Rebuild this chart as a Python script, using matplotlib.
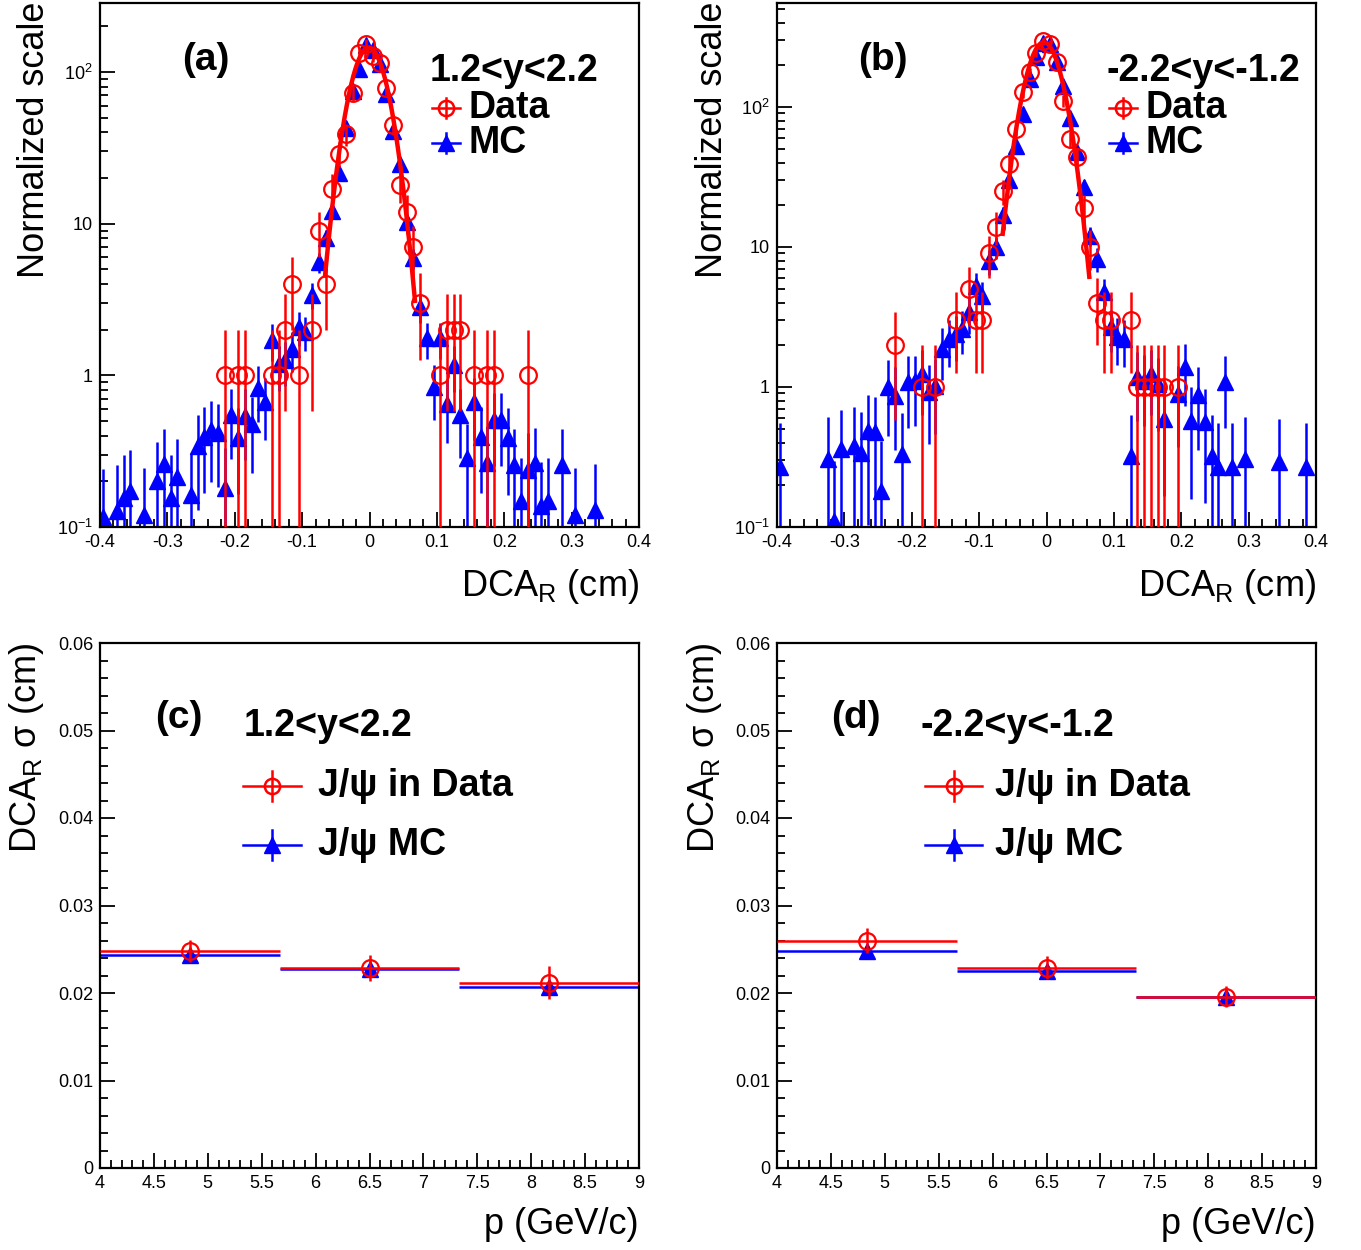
import numpy as np
import matplotlib
matplotlib.use('Agg')
import matplotlib.pyplot as plt
from matplotlib.ticker import MultipleLocator, FixedLocator, LogLocator, NullFormatter, FuncFormatter

plt.rcParams['font.family'] = ['Liberation Sans', 'DejaVu Sans']
plt.rcParams['mathtext.fontset'] = 'custom'
plt.rcParams['mathtext.rm'] = 'Liberation Sans'
plt.rcParams['mathtext.it'] = 'Liberation Sans:italic'
plt.rcParams['mathtext.bf'] = 'Liberation Sans:bold'
plt.rcParams['axes.unicode_minus'] = False

# ---- (a) 1.2<y<2.2 : DCA_R distributions ----
a_mc_x = [-0.395, -0.375, -0.365, -0.355, -0.335, -0.315, -0.305, -0.295, -0.285, -0.265,
          -0.255, -0.245, -0.235, -0.225, -0.215, -0.205, -0.195, -0.185, -0.175, -0.165,
          -0.155, -0.145, -0.135, -0.125, -0.115, -0.105, -0.095, -0.085, -0.075, -0.065,
          -0.055, -0.045, -0.035, -0.025, -0.015, -0.005, 0.005, 0.015, 0.025, 0.035,
          0.045, 0.055, 0.065, 0.075, 0.085, 0.095, 0.105, 0.115, 0.125, 0.135,
          0.145, 0.155, 0.165, 0.175, 0.185, 0.195, 0.205, 0.215, 0.225, 0.235,
          0.245, 0.255, 0.265, 0.285, 0.305, 0.335]
a_mc_y = [0.117, 0.128, 0.155, 0.173, 0.12, 0.2, 0.26, 0.155, 0.214, 0.163,
          0.34, 0.395, 0.436, 0.415, 0.18, 0.548, 0.389, 0.543, 0.476, 0.82,
          0.67, 1.71, 1.18, 1.26, 1.5, 2.09, 1.94, 3.4, 5.6, 8.0,
          12.2, 21.5, 43, 75, 105, 150, 140, 113, 72, 41,
          24.8, 10.3, 5.9, 2.83, 1.75, 0.84, 1.75, 0.65, 1.17, 0.55,
          0.284, 0.67, 0.395, 0.264, 0.51, 0.51, 0.385, 0.257, 0.148, 0.238,
          0.264, 0.137, 0.148, 0.257, 0.12, 0.13]
a_data_x = [-0.215, -0.195, -0.185, -0.145, -0.135, -0.125, -0.115, -0.105, -0.085, -0.075,
            -0.065, -0.055, -0.045, -0.035, -0.025, -0.015, -0.005, 0.005, 0.015, 0.025,
            0.035, 0.045, 0.055, 0.065, 0.075, 0.105, 0.115, 0.125, 0.135, 0.155,
            0.175, 0.185, 0.235]
a_data_y = [1, 1, 1, 1, 1, 2, 4, 1, 2, 9,
            4, 17, 29, 39, 73, 134, 152, 128, 114, 79,
            45, 18, 12, 7, 3, 1, 2, 2, 2, 1,
            1, 1, 1]
a_mc_errscale = 0.36
# gaussian fit on data: amplitude, mean, sigma, range
a_fit = (145.0, -0.001, 0.0247, -0.066, 0.0675)

# ---- (b) -2.2<y<-1.2 ----
b_mc_x = [-0.395, -0.325, -0.315, -0.305, -0.285, -0.275, -0.265, -0.255, -0.245, -0.235,
          -0.225, -0.215, -0.205, -0.195, -0.185, -0.175, -0.165, -0.155, -0.145, -0.135,
          -0.125, -0.115, -0.105, -0.095, -0.085, -0.075, -0.065, -0.055, -0.045, -0.035,
          -0.025, -0.015, -0.005, 0.005, 0.015, 0.025, 0.035, 0.045, 0.055, 0.065,
          0.075, 0.085, 0.095, 0.105, 0.115, 0.125, 0.135, 0.145, 0.155, 0.165,
          0.175, 0.195, 0.205, 0.215, 0.225, 0.235, 0.245, 0.255, 0.265, 0.275,
          0.295, 0.345, 0.385]
b_mc_y = [0.267, 0.306, 0.111, 0.36, 0.381, 0.34, 0.488, 0.474, 0.18, 1.0,
          0.867, 0.332, 1.08, 1.1, 1.24, 0.916, 1.02, 1.87, 2.2, 2.39,
          2.6, 3.41, 5.3, 4.49, 7.9, 10.0, 17.0, 30.0, 53.0, 89.0,
          158, 226, 287, 282, 208, 142, 84, 48, 27, 12,
          8.2, 4.75, 2.67, 2.26, 2.2, 0.32, 1.17, 1.11, 1.24, 1.05,
          0.59, 0.89, 1.38, 0.575, 0.87, 0.56, 0.32, 0.267, 1.08, 0.267,
          0.306, 0.29, 0.267]
b_data_x = [-0.225, -0.185, -0.165, -0.135, -0.115, -0.105, -0.095, -0.085, -0.075, -0.065,
            -0.055, -0.045, -0.035, -0.025, -0.015, -0.005, 0.005, 0.015, 0.025, 0.035,
            0.045, 0.055, 0.065, 0.075, 0.085, 0.095, 0.125, 0.135, 0.145, 0.155,
            0.165, 0.175, 0.195]
b_data_y = [2, 1, 1, 3, 5, 3, 3, 9, 14, 25,
            39, 70, 127, 178, 245, 295, 282, 210, 111, 59,
            44, 19, 10, 4, 3, 3, 3, 1, 1, 1,
            1, 1, 1]
b_mc_errscale = 0.55
b_fit = (290.0, -0.004, 0.0243, -0.065, 0.0635)

# ---- (c), (d) DCA_R sigma vs p ----
p_edges = [4.0, 5.667, 7.333, 9.0]
c_data_sig = [0.0248, 0.0229, 0.0212]
c_data_err = [0.0013, 0.0015, 0.0019]
c_mc_sig = [0.0243, 0.0227, 0.0207]
c_mc_err = [0.0003, 0.0003, 0.0003]
d_data_sig = [0.0260, 0.0229, 0.0196]
d_data_err = [0.0014, 0.0013, 0.0012]
d_mc_sig = [0.0248, 0.0225, 0.0195]
d_mc_err = [0.0003, 0.0003, 0.0003]

W, H = 1361, 1250
fig = plt.figure(figsize=(W / 100, H / 100), dpi=100)


def box(x0, x1, ytop, ybot):
    return [x0 / W, 1 - ybot / H, (x1 - x0) / W, (ybot - ytop) / H]


def style(ax):
    for s in ax.spines.values():
        s.set_linewidth(1.6)
    ax.tick_params(which='both', direction='in', top=False, right=False,
                   width=1.3, labelsize=13, pad=5)
    ax.tick_params(which='major', length=11)
    ax.tick_params(which='minor', length=5.5)


def legend_entry(ax, x, y, dx, dy, color, marker, text, tx, size=27):
    ax.plot([x - dx, x + dx], [y, y], color=color, lw=1.8, transform=ax.transAxes, clip_on=False)
    ax.plot([x, x], [y - dy, y + dy], color=color, lw=1.8, transform=ax.transAxes, clip_on=False)
    if marker == 'o':
        ax.plot([x], [y], 'o', ms=11, mfc='none', mec=color, mew=1.8,
                transform=ax.transAxes, clip_on=False)
    else:
        ax.plot([x], [y], '^', ms=12, color=color, transform=ax.transAxes, clip_on=False)
    ax.text(tx, y, text, transform=ax.transAxes, fontsize=size, fontweight='bold',
            ha='left', va='center')


def dca_panel(ax, mc_x, mc_y, mc_scale, d_x, d_y, fit, ymax):
    mc_x = np.array(mc_x)
    mc_y = np.array(mc_y)
    d_x = np.array(d_x)
    d_y = np.array(d_y, dtype=float)
    mc_e = mc_scale * np.sqrt(mc_y)
    mc_lo = mc_y - np.maximum(mc_y - mc_e, 1e-3)
    ax.errorbar(mc_x, mc_y, yerr=[mc_lo, mc_e], fmt='^', color='blue', ms=12,
                elinewidth=1.8, capsize=0, zorder=2)
    d_e = np.sqrt(d_y)
    d_lo = d_y - np.maximum(d_y - d_e, 1e-3)
    ax.errorbar(d_x, d_y, yerr=[d_lo, d_e], fmt='o', color='red', mfc='none', mec='red',
                ms=12, mew=1.6, elinewidth=1.8, capsize=0, zorder=3)
    amp, mu, sig, lo, hi = fit
    xf = np.linspace(lo, hi, 300)
    ax.plot(xf, amp * np.exp(-0.5 * ((xf - mu) / sig) ** 2), color='red', lw=3.2, zorder=4)

    ax.set_yscale('log')
    ax.set_xlim(-0.4, 0.4)
    ax.set_ylim(0.1, ymax)
    ax.xaxis.set_major_locator(MultipleLocator(0.1))
    ax.xaxis.set_minor_locator(MultipleLocator(0.02))
    ax.xaxis.set_major_formatter(FuncFormatter(lambda v, p: '%g' % round(v, 2)))
    ax.yaxis.set_major_locator(FixedLocator([0.1, 1, 10, 100]))
    ax.yaxis.set_major_formatter(FuncFormatter(
        lambda v, p: {0.1: '$10^{-1}$', 1: '1', 10: '10', 100: '$10^{2}$'}.get(round(v, 1), '')))
    ax.yaxis.set_minor_locator(LogLocator(base=10, subs=np.arange(2, 10)))
    ax.yaxis.set_minor_formatter(NullFormatter())
    style(ax)


def sigma_panel(ax, d_sig, d_err, m_sig, m_err):
    edges = np.array(p_edges)
    cen = 0.5 * (edges[1:] + edges[:-1])
    half = 0.5 * (edges[1:] - edges[:-1])
    ax.errorbar(cen, m_sig, xerr=half, yerr=m_err, fmt='^', color='blue', ms=12,
                elinewidth=1.8, capsize=0, zorder=2)
    ax.errorbar(cen, d_sig, xerr=half, yerr=d_err, fmt='o', color='red', mfc='none',
                mec='red', ms=12, mew=1.6, elinewidth=1.8, capsize=0, zorder=3)
    ax.set_xlim(4, 9)
    ax.set_ylim(0, 0.06)
    ax.xaxis.set_major_locator(MultipleLocator(0.5))
    ax.xaxis.set_minor_locator(MultipleLocator(0.1))
    ax.yaxis.set_major_locator(MultipleLocator(0.01))
    ax.yaxis.set_minor_locator(MultipleLocator(0.002))
    ax.xaxis.set_major_formatter(FuncFormatter(lambda v, p: '%g' % round(v, 2)))
    ax.yaxis.set_major_formatter(FuncFormatter(lambda v, p: '%g' % round(v, 3)))
    style(ax)


ax_a = fig.add_axes(box(100, 639, 3, 527))
ax_b = fig.add_axes(box(777, 1316, 3, 527))
ax_c = fig.add_axes(box(100, 639, 643, 1168))
ax_d = fig.add_axes(box(777, 1316, 643, 1168))

dca_panel(ax_a, a_mc_x, a_mc_y, a_mc_errscale, a_data_x, a_data_y, a_fit, 285)
dca_panel(ax_b, b_mc_x, b_mc_y, b_mc_errscale, b_data_x, b_data_y, b_fit, 553)
sigma_panel(ax_c, c_data_sig, c_data_err, c_mc_sig, c_mc_err)
sigma_panel(ax_d, d_data_sig, d_data_err, d_mc_sig, d_mc_err)

# panel labels, rapidity ranges and legends
for ax, tag, rap in [(ax_a, '(a)', '1.2<y<2.2'), (ax_b, '(b)', '-2.2<y<-1.2')]:
    ax.text(0.196, 0.891, tag, transform=ax.transAxes, fontsize=28, fontweight='bold',
            ha='center', va='center')
    ax.text(0.612, 0.870, rap, transform=ax.transAxes, fontsize=27, fontweight='bold',
            ha='left', va='center')
    legend_entry(ax, 0.642, 0.800, 0.026, 0.019, 'red', 'o', 'Data', 0.683)
    legend_entry(ax, 0.642, 0.733, 0.026, 0.019, 'blue', '^', 'MC', 0.683)

for ax, tag, rap, mx in [(ax_c, '(c)', '1.2<y<2.2', 0.319), (ax_d, '(d)', '-2.2<y<-1.2', 0.328)]:
    ax.text(0.146, 0.857, tag, transform=ax.transAxes, fontsize=28, fontweight='bold',
            ha='center', va='center')
    ax.text(0.266, 0.842, rap, transform=ax.transAxes, fontsize=27, fontweight='bold',
            ha='left', va='center')
    legend_entry(ax, mx, 0.728, 0.053, 0.028, 'red', 'o', 'J/\u03c8 in Data', 0.404)
    legend_entry(ax, mx, 0.615, 0.053, 0.028, 'blue', '^', 'J/\u03c8 MC', 0.404)

# axis titles (ROOT style: aligned to the axis ends)
for xpix in (35, 712):
    fig.text(xpix / W, 1 - 2 / H, 'Normalized scale', rotation=90, fontsize=26,
             ha='center', va='top')
for xpix in (27, 705):
    fig.text(xpix / W, 1 - 643 / H, 'DCA$_{\\mathrm{R}}$ \u03c3 (cm)', rotation=90,
             fontsize=26, ha='center', va='top')
for xpix in (639, 1316):
    fig.text(xpix / W, 1 - 596 / H, 'DCA$_{\\mathrm{R}}$ (cm)', fontsize=26,
             ha='right', va='baseline')
    fig.text(xpix / W, 1 - 1234 / H, 'p (GeV/c)', fontsize=26, ha='right', va='baseline')

fig.savefig('out.png', dpi=100)
